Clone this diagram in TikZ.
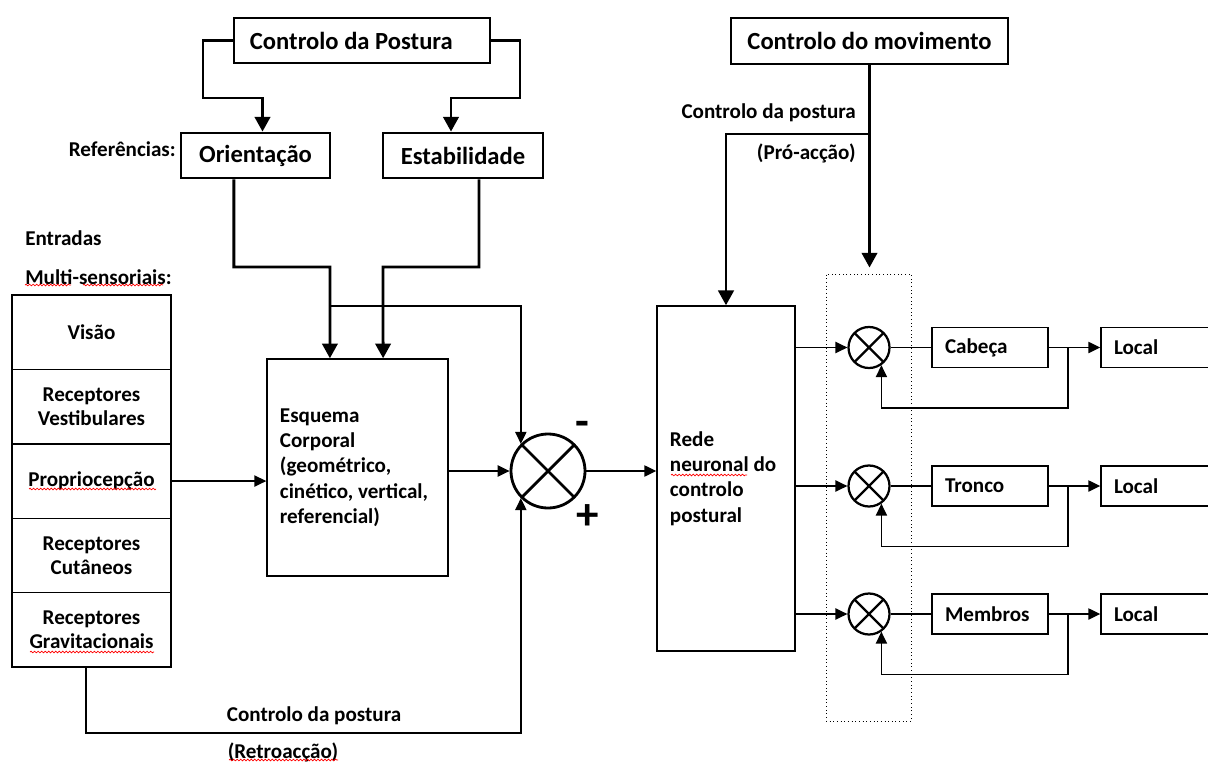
\documentclass[tikz,border=0pt]{standalone}
\usepackage{fontspec}
\setmainfont{Carlito}
\usetikzlibrary{positioning,arrows.meta,decorations.pathmorphing}

\begin{document}
\begin{tikzpicture}[x=0.025cm,y=-0.025cm,
	big/.style={font=\bfseries\fontsize{17.5}{21}\selectfont},
	small/.style={font=\bfseries\fontsize{15}{18}\selectfont},
	lbl/.style={small,inner sep=0pt},
	bigbox/.style={big,draw,line width=2pt,minimum height=1.125cm,inner sep=0pt},
	thinbox/.style={small,draw,line width=1pt,inner sep=0pt},
	sensor/.style={draw,line width=1pt,outer sep=0pt,inner sep=0pt,minimum width=3.975cm,minimum height=1.86cm,align=center,font=\bfseries\fontsize{15}{17}\selectfont},
	part/.style={thinbox,minimum width=2.9cm,minimum height=1cm,text width=2.25cm,align=flush left},
	mixer/.style={circle,draw,line width=#1,inner sep=0pt,
		path picture={\draw[line width=#1] (path picture bounding box.north west) -- (path picture bounding box.south east)
			(path picture bounding box.south west) -- (path picture bounding box.north east);}},
	sign/.style={font=\bfseries\fontsize{32}{36}\selectfont,inner sep=0pt},
	bigarrow/.style={line width=2pt,-{Triangle[length=10.5pt,width=11pt]}},
	thinarrow/.style={line width=1pt,-{Triangle[length=8.5pt,width=8pt]}},
	squiggle/.style={red,line width=0.5pt,decorate,decoration={snake,amplitude=0.6pt,segment length=2.5pt}}]
	\clip (0,0) rectangle (1208,763);

	%references
	\node[bigbox,minimum width=6.4cm,text width=5.6cm,align=flush left] (post) at (362,40.5) {Controlo da Postura};
	\node[bigbox,minimum width=3.725cm] (orient) at (255.5,155.5) {Orientação};
	\node[bigbox,minimum width=4cm] (stab) at (463,155.5) {Estabilidade};
	\node[lbl,anchor=east] (reftxt) at (176,149) {Referências:};

	%sensory inputs
	\node[lbl,anchor=west] (intxt) at (25,238) {Entradas};
	\node[lbl,anchor=west] (intxt2) at (25,277) {Multi-sensoriais:};
	\node[sensor] (vis) at (91.5,332.2) {Visão};
	\node[sensor,below=0pt of vis] (vest) {Receptores\\Vestibulares};
	\node[sensor,below=0pt of vest] (prop) {Propriocepção};
	\node[sensor,below=0pt of prop] (cut) {Receptores\\Cutâneos};
	\node[sensor,below=0pt of cut] (grav) {Receptores\\Gravitacionais};

	%body schema and comparator
	\node[thinbox,minimum width=4.525cm,minimum height=5.425cm,text width=3.875cm,align=flush left] (esq) at (357.5,467.5)
		{Esquema\\Corporal\\(geométrico,\\cinético, vertical,\\referencial)};
	\node[mixer=2pt,minimum size=1.85cm] (sum) at (548,471) {};
	\node[sign] (minus) at (582,429) {-};
	\node[sign] (plus) at (588,517) {+};

	%movement control
	\node[draw,dotted,line width=0.6pt,minimum width=2.125cm,minimum height=11.175cm,inner sep=0pt] (grp) at (868.5,497.5) {};
	\node[bigbox,minimum width=6.925cm,minimum height=1.15cm] (mov) at (869.5,41) {Controlo do movimento};
	\node[thinbox,minimum width=3.45cm,minimum height=8.625cm,text width=2.8cm,align=flush left] (rede) at (726,478.5)
		{Rede\\neuronal do\\controlo\\postural};
	\node[lbl,anchor=east] (protxt) at (856,113) {Controlo da postura};
	\node[lbl,anchor=east] (protxt2) at (856,153) {(Pró-acção)};

	%thick lines
	\draw[bigarrow] (post.west) -| (203,98) -| ([xshift=0.175cm]orient.north);
	\draw[bigarrow] (post.east) -| (520,98) -| ([xshift=-0.3cm]stab.north);
	\draw[bigarrow] ([xshift=-0.54cm]orient.south) |- (330,267) -- ([xshift=-0.69cm]esq.north);
	\draw[bigarrow] ([xshift=0.4cm]stab.south) |- (383,267) -- ([xshift=0.64cm]esq.north);
	\draw[bigarrow,shorten >=0.15cm] (mov.south) -- (mov.south |- grp.north);
	\coordinate (pro) at (869.5,134);
	\draw[bigarrow] (pro) -| (rede.north);

	%thin lines
	\coordinate (tap) at (330,306);
	\draw[thinarrow] (tap) -| (sum.north west);
	\draw[thinarrow] (prop.east) -- (esq.west |- prop.east);
	\draw[thinarrow] (esq.east |- sum.west) -- (sum.west);
	\draw[thinarrow] (sum.east) -- (rede.west |- sum.east);
	\coordinate (fbrow) at (0,733);
	\draw[thinarrow] ([xshift=-0.14cm]grav.south) |- (fbrow -| sum.south west) -- (sum.south west);
	\node[lbl] (fbtxt) at (314,716) {Controlo da postura};
	\node[lbl] (fbtxt2) at (283,752) {(Retroacção)};

	%segments
	\foreach \n/\t/\y in {cab/Cabeça/347.5,tro/Tronco/486,mem/Membros/614}{
		\node[mixer=1.6pt,minimum size=1.025cm] (m\n) at (869,\y) {};
		\node[part] (\n) at (990,\y) {\t};
		\node[part,minimum width=3.25cm,text width=2.6cm] (l\n) at (1166,\y) {Local};
		\coordinate (t\n) at (1068,\y);
		\draw[thinarrow] (rede.east |- m\n.west) -- (m\n.west);
		\draw[line width=1pt] (m\n.east) -- (\n.west);
		\draw[thinarrow] (\n.east) -- (l\n.west);
		\draw[thinarrow] (t\n) -- ++(0,60.5) -| (m\n.-55);
	}

	%spelling marks
	\draw[squiggle] (25,285) -- (71,285);
	\draw[squiggle] (83,285) -- (163,285);
	\draw[squiggle] (29,489) -- (156,489);
	\draw[squiggle] (30,652) -- (154,652);
	\draw[squiggle] (671,475) -- (747,475);
	\draw[squiggle] (229,760) -- (338,760);
\end{tikzpicture}
\end{document}
